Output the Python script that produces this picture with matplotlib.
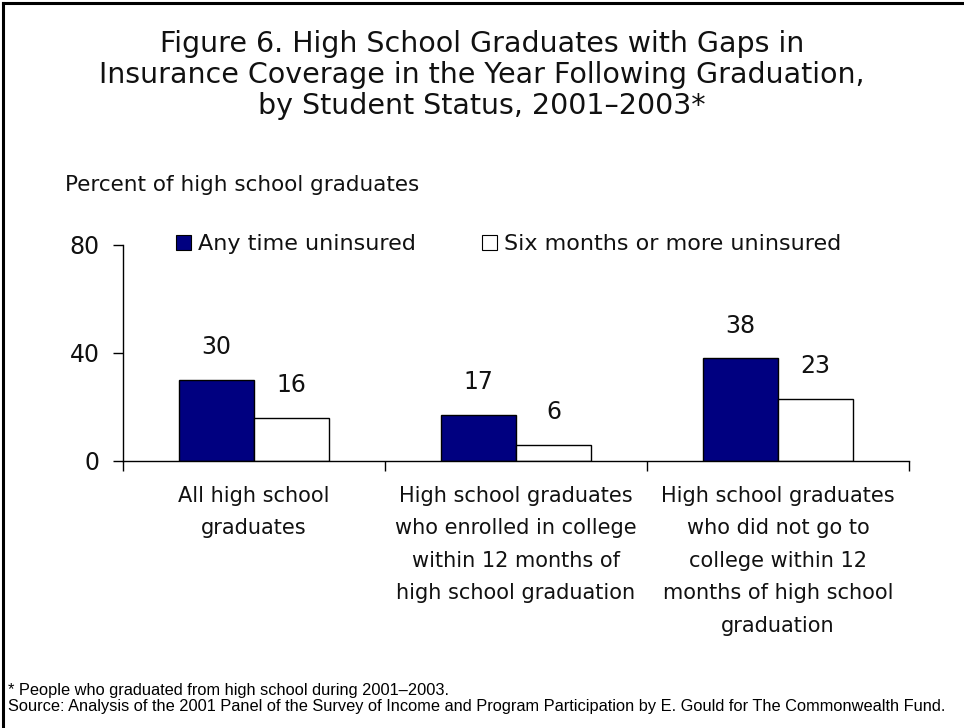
import matplotlib
matplotlib.use("Agg")
import matplotlib.pyplot as plt
from matplotlib.lines import Line2D
import matplotlib.patches as mpatches
import numpy as np

W, H = 964, 728

categories = [
    "All high school\ngraduates",
    "High school graduates\nwho enrolled in college\nwithin 12 months of\nhigh school graduation",
    "High school graduates\nwho did not go to\ncollege within 12\nmonths of high school\ngraduation",
]
any_time = [30, 17, 38]
six_months = [16, 6, 23]
series_names = ["Any time uninsured", "Six months or more uninsured"]
y_ticks = [0, 40, 80]

title = ("Figure 6. High School Graduates with Gaps in\n"
         "Insurance Coverage in the Year Following Graduation,\n"
         "by Student Status, 2001\u20132003*")
y_title = "Percent of high school graduates"
notes = ["* People who graduated from high school during 2001\u20132003.",
         "Source: Analysis of the 2001 Panel of the Survey of Income and Program "
         "Participation by E. Gould for The Commonwealth Fund."]

NAVY = "#000080"
FONT = "DejaVu Sans"
TXT = "#111111"


def fx(px):
    return px / W


def fy(py):
    return 1 - py / H


fig = plt.figure(figsize=(W / 100, H / 100), dpi=100)
ax = fig.add_axes([fx(123), fy(461), fx(909) - fx(123), fy(245) - fy(461)])

x = np.arange(len(categories)) + 0.5
w = 0.286
b1 = ax.bar(x - w / 2, any_time, w, color=NAVY, edgecolor="black", linewidth=1)
b2 = ax.bar(x + w / 2, six_months, w, color="white", edgecolor="black", linewidth=1)

for bars, vals in [(b1, any_time), (b2, six_months)]:
    for bar, v in zip(bars, vals):
        ax.annotate(f"{v}", (bar.get_x() + bar.get_width() / 2, v),
                    xytext=(0, 15), textcoords="offset points",
                    ha="center", va="bottom", fontsize=17, family=FONT,
                    color=TXT)

ax.set_xlim(0, 3)
ax.set_ylim(0, 80)
ax.set_yticks(y_ticks)
ax.set_xticks([0, 1, 2, 3])
ax.set_xticklabels([])
ax.tick_params(axis="y", length=7, width=1, pad=10, labelsize=17, labelcolor=TXT)
ax.tick_params(axis="x", length=7, width=1)
for lbl in ax.get_yticklabels():
    lbl.set_family(FONT)
for s in ["top", "right"]:
    ax.spines[s].set_visible(False)
for s in ["left", "bottom"]:
    ax.spines[s].set_linewidth(1)

for xi, cat in zip(x, categories):
    ax.text(xi, -0.115, cat, transform=ax.get_xaxis_transform(), ha="center",
            va="top", fontsize=15, family=FONT, linespacing=1.78, color=TXT)

handles = [mpatches.Patch(facecolor=NAVY, edgecolor="black", linewidth=0.8),
           mpatches.Patch(facecolor="white", edgecolor="black", linewidth=0.8)]
leg = fig.legend(handles, series_names, loc="center left",
                 bbox_to_anchor=(fx(176), fy(244)), ncol=2, frameon=False,
                 handlelength=0.68, handleheight=0.68, handletextpad=0.3,
                 columnspacing=3.0, borderaxespad=0, borderpad=0,
                 prop={"family": FONT, "size": 16})
for t in leg.get_texts():
    t.set_color(TXT)

fig.text(0.5, fy(75), title, ha="center", va="center", fontsize=20.5,
         family=FONT, linespacing=1.12, color=TXT)
fig.text(fx(65), fy(185), y_title, ha="left", va="center", fontsize=15.5,
         family=FONT, color=TXT)

fig.text(fx(8), fy(690), notes[0], ha="left", va="center", fontsize=11.8,
         family="Liberation Sans")
fig.text(fx(8), fy(707), notes[1], ha="left", va="center", fontsize=11.8,
         family="Liberation Sans")

# frame: top and left edges only
fig.add_artist(Line2D([fx(3), 1], [fy(3), fy(3)], color="black", linewidth=2.2))
fig.add_artist(Line2D([fx(3), fx(3)], [fy(3), 0], color="black", linewidth=2.2))

fig.savefig("out.png", dpi=100)
